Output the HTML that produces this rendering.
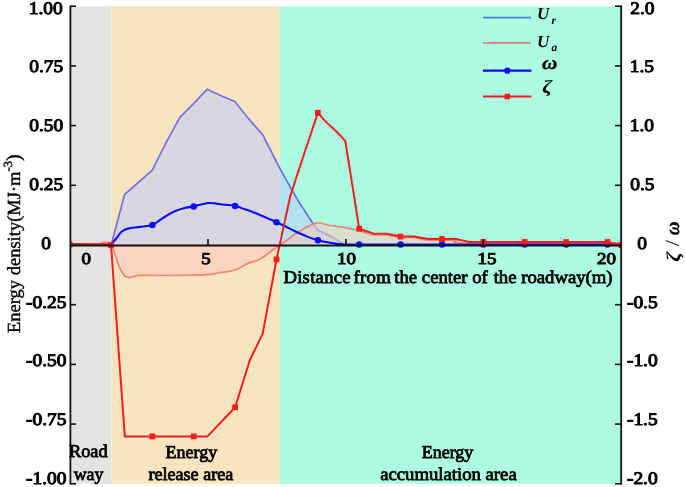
<!DOCTYPE html>
<html><head><meta charset="utf-8"><style>
html,body{margin:0;padding:0;background:#fff;width:685px;height:487px;overflow:hidden}
svg{display:block;text-rendering:geometricPrecision;filter:blur(0.35px)}
</style></head><body>
<svg width="685" height="487" viewBox="0 0 685 487">
<defs><clipPath id="pc"><rect x="70.4" y="5" width="550.8" height="479"/></clipPath></defs>
<rect width="685" height="487" fill="#fff"/>
<rect x="70.4" y="6.2" width="41.1" height="477.6" fill="#e4e4e4"/>
<rect x="111.5" y="6.2" width="168.3" height="477.6" fill="#f8e5bf"/>
<rect x="279.8" y="6.2" width="341" height="477.6" fill="#adfee0"/>
<g clip-path="url(#pc)">
<polygon points="111.2,245.0 124.6,194.5 152.1,170.3 166.2,142.4 179.9,117.4 193.6,103.7 207.3,89.2 221.1,95.7 234.8,101.5 248.5,118.7 262.8,134.8 278.3,165.5 288.5,184.0 297.7,200.0 313.2,224.0 318.0,230.2 330.0,235.9 344.0,244.2" fill="rgb(188,199,255)" fill-opacity="0.5"/>
<polyline points="111.2,245.0 124.6,194.5 152.1,170.3 166.2,142.4 179.9,117.4 193.6,103.7 207.3,89.2 221.1,95.7 234.8,101.5 248.5,118.7 262.8,134.8 278.3,165.5 288.5,184.0 297.7,200.0 313.2,224.0 318.0,230.2 330.0,235.9 344.0,244.2" fill="none" stroke="#7472ef" stroke-width="1.75" stroke-linejoin="round"/>
<path d="M70.40,244.80 C74.67,244.77 90.90,244.87 96.00,244.60 C101.10,244.33 99.50,243.63 101.00,243.20 C102.50,242.77 103.75,242.07 105.00,242.00 C106.25,241.93 107.38,242.25 108.50,242.80 C109.62,243.35 110.70,243.60 111.70,245.30 C112.70,247.00 113.45,249.97 114.50,253.00 C115.55,256.03 116.83,260.42 118.00,263.50 C119.17,266.58 120.33,269.38 121.50,271.50 C122.67,273.62 123.80,275.18 125.00,276.20 C126.20,277.22 127.45,277.50 128.70,277.60 C129.95,277.70 131.18,277.13 132.50,276.80 C133.82,276.47 134.52,275.83 136.60,275.60 C138.68,275.37 139.43,275.42 145.00,275.40 C150.57,275.38 161.67,275.53 170.00,275.50 C178.33,275.47 188.88,275.35 195.00,275.20 C201.12,275.05 203.37,274.87 206.70,274.60 C210.03,274.33 212.08,274.00 215.00,273.60 C217.92,273.20 220.72,272.83 224.20,272.20 C227.68,271.57 232.00,271.23 235.90,269.80 C239.80,268.37 243.95,265.20 247.60,263.60 C251.25,262.00 254.90,261.47 257.80,260.20 C260.70,258.93 262.57,257.67 265.00,256.00 C267.43,254.33 269.95,251.95 272.40,250.20 C274.85,248.45 278.48,246.28 279.70,245.50 Z" fill="rgb(250,198,190)" fill-opacity="0.55"/>
<path d="M279.70,245.50 C281.42,244.22 286.77,240.13 290.00,237.80 C293.23,235.47 296.43,233.22 299.10,231.50 C301.77,229.78 303.65,228.75 306.00,227.50 C308.35,226.25 310.97,224.78 313.20,224.00 C315.43,223.22 316.60,222.55 319.40,222.80 C322.20,223.05 325.73,224.70 330.00,225.50 C334.27,226.30 340.38,226.82 345.00,227.60 C349.62,228.38 353.08,229.03 357.70,230.20 C362.32,231.37 367.98,233.80 372.70,234.60 C377.42,235.40 381.30,234.50 386.00,235.00 C390.70,235.50 396.23,237.17 400.90,237.60 C405.57,238.03 409.45,237.18 414.00,237.60 C418.55,238.02 421.37,239.65 428.20,240.10 C435.03,240.55 448.20,239.82 455.00,240.30 C461.80,240.78 441.33,242.55 469.00,243.00 C496.67,243.45 595.67,243.00 621.00,243.00 L621,245.5 Z" fill="rgb(250,198,190)" fill-opacity="0.55"/>
<path d="M70.40,244.80 C74.67,244.77 90.90,244.87 96.00,244.60 C101.10,244.33 99.50,243.63 101.00,243.20 C102.50,242.77 103.75,242.07 105.00,242.00 C106.25,241.93 107.38,242.25 108.50,242.80 C109.62,243.35 110.70,243.60 111.70,245.30 C112.70,247.00 113.45,249.97 114.50,253.00 C115.55,256.03 116.83,260.42 118.00,263.50 C119.17,266.58 120.33,269.38 121.50,271.50 C122.67,273.62 123.80,275.18 125.00,276.20 C126.20,277.22 127.45,277.50 128.70,277.60 C129.95,277.70 131.18,277.13 132.50,276.80 C133.82,276.47 134.52,275.83 136.60,275.60 C138.68,275.37 139.43,275.42 145.00,275.40 C150.57,275.38 161.67,275.53 170.00,275.50 C178.33,275.47 188.88,275.35 195.00,275.20 C201.12,275.05 203.37,274.87 206.70,274.60 C210.03,274.33 212.08,274.00 215.00,273.60 C217.92,273.20 220.72,272.83 224.20,272.20 C227.68,271.57 232.00,271.23 235.90,269.80 C239.80,268.37 243.95,265.20 247.60,263.60 C251.25,262.00 254.90,261.47 257.80,260.20 C260.70,258.93 262.57,257.67 265.00,256.00 C267.43,254.33 269.95,251.95 272.40,250.20 C274.85,248.45 278.48,246.28 279.70,245.50" fill="none" stroke="#f07468" stroke-width="1.7" stroke-opacity="0.85" stroke-linejoin="round"/>
<path d="M279.70,245.50 C281.42,244.22 286.77,240.13 290.00,237.80 C293.23,235.47 296.43,233.22 299.10,231.50 C301.77,229.78 303.65,228.75 306.00,227.50 C308.35,226.25 310.97,224.78 313.20,224.00 C315.43,223.22 316.60,222.55 319.40,222.80 C322.20,223.05 325.73,224.70 330.00,225.50 C334.27,226.30 340.38,226.82 345.00,227.60 C349.62,228.38 353.08,229.03 357.70,230.20 C362.32,231.37 367.98,233.80 372.70,234.60 C377.42,235.40 381.30,234.50 386.00,235.00 C390.70,235.50 396.23,237.17 400.90,237.60 C405.57,238.03 409.45,237.18 414.00,237.60 C418.55,238.02 421.37,239.65 428.20,240.10 C435.03,240.55 448.20,239.82 455.00,240.30 C461.80,240.78 441.33,242.55 469.00,243.00 C496.67,243.45 595.67,243.00 621.00,243.00" fill="none" stroke="#f07468" stroke-width="1.7" stroke-opacity="0.85" stroke-linejoin="round"/>
<path d="M111.20,243.80 C111.67,243.37 112.95,242.37 114.00,241.20 C115.05,240.03 116.33,238.28 117.50,236.80 C118.67,235.32 119.82,233.47 121.00,232.30 C122.18,231.13 123.10,230.50 124.60,229.80 C126.10,229.10 127.43,228.58 130.00,228.10 C132.57,227.62 136.32,227.40 140.00,226.90 C143.68,226.40 148.77,226.25 152.10,225.10 C155.43,223.95 157.52,221.60 160.00,220.00 C162.48,218.40 164.53,216.95 167.00,215.50 C169.47,214.05 172.02,212.52 174.80,211.30 C177.58,210.08 180.62,209.00 183.70,208.20 C186.78,207.40 190.58,207.07 193.30,206.50 C196.02,205.93 197.55,205.38 200.00,204.80 C202.45,204.22 205.50,203.23 208.00,203.00 C210.50,202.77 212.92,203.18 215.00,203.40 C217.08,203.62 217.22,203.90 220.50,204.30 C223.78,204.70 230.78,205.02 234.70,205.80 C238.62,206.58 240.90,207.92 244.00,209.00 C247.10,210.08 249.67,210.88 253.30,212.30 C256.93,213.72 262.00,215.88 265.80,217.50 C269.60,219.12 272.90,220.53 276.10,222.00 C279.30,223.47 281.85,224.75 285.00,226.30 C288.15,227.85 291.42,229.63 295.00,231.30 C298.58,232.97 302.72,234.80 306.50,236.30 C310.28,237.80 313.78,239.23 317.70,240.30 C321.62,241.37 325.83,242.05 330.00,242.70 C334.17,243.35 337.70,243.88 342.70,244.20 C347.70,244.52 313.62,244.53 360.00,244.60 C406.38,244.67 577.50,244.60 621.00,244.60" fill="none" stroke="#0a0aff" stroke-width="2.1" stroke-linejoin="round"/>
<circle cx="152.4" cy="224.9" r="3.25" fill="#0a0aff"/>
<circle cx="193.8" cy="206.4" r="3.25" fill="#0a0aff"/>
<circle cx="235.1" cy="205.9" r="3.25" fill="#0a0aff"/>
<circle cx="276.5" cy="222.2" r="3.25" fill="#0a0aff"/>
<circle cx="317.9" cy="240.3" r="3.25" fill="#0a0aff"/>
<circle cx="359.2" cy="244.6" r="3.25" fill="#0a0aff"/>
<circle cx="400.6" cy="244.6" r="3.25" fill="#0a0aff"/>
<circle cx="442.0" cy="244.6" r="3.25" fill="#0a0aff"/>
<circle cx="483.4" cy="244.6" r="3.25" fill="#0a0aff"/>
<circle cx="524.7" cy="244.6" r="3.25" fill="#0a0aff"/>
<circle cx="566.1" cy="244.6" r="3.25" fill="#0a0aff"/>
<circle cx="607.5" cy="244.6" r="3.25" fill="#0a0aff"/>
<polyline points="69.0,244.1 108.5,244.2 111.0,244.6 124.8,436.4 152.4,436.4 193.8,436.4 207.5,436.4 235.1,407.3 250.0,359.8 262.7,333.6 276.5,259.5 290.3,196.0 304.1,154.0 317.9,112.7 322.0,117.6 326.8,122.6 331.0,126.6 336.3,131.3 341.0,136.3 345.4,141.4 359.2,228.7 373.0,233.4 386.8,233.8 400.6,236.6 414.4,236.6 428.2,239.1 442.0,239.1 455.8,239.1 469.6,241.9 483.4,242.0 607.5,242.0 621.2,245.0" fill="none" stroke="#fa1c1c" stroke-width="2.0" stroke-linejoin="round"/>
<rect x="66.8" y="241.7" width="5.8" height="5.8" fill="#fa1c1c"/>
<rect x="108.1" y="242.1" width="5.8" height="5.8" fill="#fa1c1c"/>
<rect x="149.5" y="433.5" width="5.8" height="5.8" fill="#fa1c1c"/>
<rect x="190.9" y="433.5" width="5.8" height="5.8" fill="#fa1c1c"/>
<rect x="232.2" y="404.4" width="5.8" height="5.8" fill="#fa1c1c"/>
<rect x="273.6" y="256.6" width="5.8" height="5.8" fill="#fa1c1c"/>
<rect x="315.0" y="109.8" width="5.8" height="5.8" fill="#fa1c1c"/>
<rect x="356.3" y="225.8" width="5.8" height="5.8" fill="#fa1c1c"/>
<rect x="397.7" y="233.7" width="5.8" height="5.8" fill="#fa1c1c"/>
<rect x="439.1" y="236.2" width="5.8" height="5.8" fill="#fa1c1c"/>
<rect x="480.5" y="239.1" width="5.8" height="5.8" fill="#fa1c1c"/>
<rect x="521.8" y="239.1" width="5.8" height="5.8" fill="#fa1c1c"/>
<rect x="563.2" y="239.1" width="5.8" height="5.8" fill="#fa1c1c"/>
<rect x="604.6" y="239.1" width="5.8" height="5.8" fill="#fa1c1c"/>
<rect x="618.3" y="242.1" width="5.8" height="5.8" fill="#fa1c1c"/>
</g>
<line x1="70.4" y1="5.4" x2="70.4" y2="484.4" stroke="#111" stroke-width="1.8"/>
<line x1="621.2" y1="5.4" x2="621.2" y2="484.4" stroke="#111" stroke-width="1.8"/>
<line x1="70.4" y1="245.5" x2="621.2" y2="245.5" stroke="#111" stroke-width="1.9"/>
<line x1="70.4" y1="6.2" x2="76" y2="6.2" stroke="#111" stroke-width="1.6"/>
<line x1="615" y1="6.2" x2="621.2" y2="6.2" stroke="#111" stroke-width="1.6"/>
<line x1="70.4" y1="65.9" x2="76" y2="65.9" stroke="#111" stroke-width="1.6"/>
<line x1="615" y1="65.9" x2="621.2" y2="65.9" stroke="#111" stroke-width="1.6"/>
<line x1="70.4" y1="125.6" x2="76" y2="125.6" stroke="#111" stroke-width="1.6"/>
<line x1="615" y1="125.6" x2="621.2" y2="125.6" stroke="#111" stroke-width="1.6"/>
<line x1="70.4" y1="185.3" x2="76" y2="185.3" stroke="#111" stroke-width="1.6"/>
<line x1="615" y1="185.3" x2="621.2" y2="185.3" stroke="#111" stroke-width="1.6"/>
<line x1="70.4" y1="304.7" x2="76" y2="304.7" stroke="#111" stroke-width="1.6"/>
<line x1="615" y1="304.7" x2="621.2" y2="304.7" stroke="#111" stroke-width="1.6"/>
<line x1="70.4" y1="364.4" x2="76" y2="364.4" stroke="#111" stroke-width="1.6"/>
<line x1="615" y1="364.4" x2="621.2" y2="364.4" stroke="#111" stroke-width="1.6"/>
<line x1="70.4" y1="424.1" x2="76" y2="424.1" stroke="#111" stroke-width="1.6"/>
<line x1="615" y1="424.1" x2="621.2" y2="424.1" stroke="#111" stroke-width="1.6"/>
<line x1="70.4" y1="483.8" x2="76" y2="483.8" stroke="#111" stroke-width="1.6"/>
<line x1="615" y1="483.8" x2="621.2" y2="483.8" stroke="#111" stroke-width="1.6"/>
<line x1="208.0" y1="239" x2="208.0" y2="245.5" stroke="#111" stroke-width="1.6"/>
<line x1="345.9" y1="239" x2="345.9" y2="245.5" stroke="#111" stroke-width="1.6"/>
<line x1="483.3" y1="239" x2="483.3" y2="245.5" stroke="#111" stroke-width="1.6"/>
<text transform="translate(68.90,457.40) scale(1.0184,1)" font-family="Liberation Serif" stroke="#000" stroke-width="0.8" font-size="18">Road</text>
<text transform="translate(73.70,479.80) scale(0.9900,1)" font-family="Liberation Serif" stroke="#000" stroke-width="0.8" font-size="18">way</text>
<text transform="translate(165.60,457.50) scale(0.9981,1)" font-family="Liberation Serif" stroke="#000" stroke-width="0.8" font-size="18">Energy</text>
<text transform="translate(148.40,480.40) scale(1.0059,1)" font-family="Liberation Serif" stroke="#000" stroke-width="0.8" font-size="18">release area</text>
<text transform="translate(421.80,457.70) scale(0.9962,1)" font-family="Liberation Serif" stroke="#000" stroke-width="0.8" font-size="18">Energy</text>
<text transform="translate(380.20,479.90) scale(1.0386,1)" font-family="Liberation Serif" stroke="#000" stroke-width="0.8" font-size="18">accumulation area</text>
<text transform="translate(283.40,282.80) scale(1.0387,1)" font-family="Liberation Serif" stroke="#000" stroke-width="0.8" font-size="18"><tspan letter-spacing="0.25">Distance</tspan><tspan dx="-2.3" letter-spacing="0.3"> from</tspan><tspan dx="-1.4"> the center of</tspan><tspan dx="1.2"> the roadway(m)</tspan></text>
<text transform="translate(28.70,13.50) scale(1.1,1)" font-family="Liberation Serif" stroke="#000" stroke-width="1.0" font-size="17.7">1.00</text>
<text transform="translate(29.25,72.30) scale(1.1,1)" font-family="Liberation Serif" stroke="#000" stroke-width="1.0" font-size="17.7">0.75</text>
<text transform="translate(29.25,131.10) scale(1.1,1)" font-family="Liberation Serif" stroke="#000" stroke-width="1.0" font-size="17.7">0.50</text>
<text transform="translate(29.25,189.90) scale(1.1,1)" font-family="Liberation Serif" stroke="#000" stroke-width="1.0" font-size="17.7">0.25</text>
<text transform="translate(41.35,248.70) scale(1.1,1)" font-family="Liberation Serif" stroke="#000" stroke-width="1.0" font-size="17.7">0</text>
<text transform="translate(25.95,307.50) scale(1.1,1)" font-family="Liberation Serif" stroke="#000" stroke-width="1.0" font-size="17.7">&#8209;0.25</text>
<text transform="translate(25.95,366.30) scale(1.1,1)" font-family="Liberation Serif" stroke="#000" stroke-width="1.0" font-size="17.7">&#8209;0.50</text>
<text transform="translate(25.95,425.10) scale(1.1,1)" font-family="Liberation Serif" stroke="#000" stroke-width="1.0" font-size="17.7">&#8209;0.75</text>
<text transform="translate(25.95,483.90) scale(1.1,1)" font-family="Liberation Serif" stroke="#000" stroke-width="1.0" font-size="17.7">&#8209;1.00</text>
<text transform="translate(630.20,13.50) scale(1.1,1)" font-family="Liberation Serif" stroke="#000" stroke-width="1.0" font-size="17.7">2.0</text>
<text transform="translate(629.65,72.30) scale(1.1,1)" font-family="Liberation Serif" stroke="#000" stroke-width="1.0" font-size="17.7">1.5</text>
<text transform="translate(629.65,131.10) scale(1.1,1)" font-family="Liberation Serif" stroke="#000" stroke-width="1.0" font-size="17.7">1.0</text>
<text transform="translate(630.20,189.90) scale(1.1,1)" font-family="Liberation Serif" stroke="#000" stroke-width="1.0" font-size="17.7">0.5</text>
<text transform="translate(637.35,248.70) scale(1.1,1)" font-family="Liberation Serif" stroke="#000" stroke-width="1.0" font-size="17.7">0</text>
<text transform="translate(626.90,307.50) scale(1.1,1)" font-family="Liberation Serif" stroke="#000" stroke-width="1.0" font-size="17.7">&#8209;0.5</text>
<text transform="translate(626.90,366.30) scale(1.1,1)" font-family="Liberation Serif" stroke="#000" stroke-width="1.0" font-size="17.7">&#8209;1.0</text>
<text transform="translate(626.90,425.10) scale(1.1,1)" font-family="Liberation Serif" stroke="#000" stroke-width="1.0" font-size="17.7">&#8209;1.5</text>
<text transform="translate(626.90,483.90) scale(1.1,1)" font-family="Liberation Serif" stroke="#000" stroke-width="1.0" font-size="17.7">&#8209;2.0</text>
<text transform="translate(81.55,264.30) scale(1.15,1)" font-family="Liberation Serif" stroke="#000" stroke-width="1.0" font-size="16.5">0</text>
<text transform="translate(201.35,264.30) scale(1.15,1)" font-family="Liberation Serif" stroke="#000" stroke-width="1.0" font-size="16.5">5</text>
<text transform="translate(337.08,264.30) scale(1.15,1)" font-family="Liberation Serif" stroke="#000" stroke-width="1.0" font-size="16.5">10</text>
<text transform="translate(477.58,264.30) scale(1.15,1)" font-family="Liberation Serif" stroke="#000" stroke-width="1.0" font-size="16.5">15</text>
<text transform="translate(596.95,264.30) scale(1.15,1)" font-family="Liberation Serif" stroke="#000" stroke-width="1.0" font-size="16.5">20</text>
<text transform="translate(20.2,333) rotate(-90)" font-family="Liberation Serif" font-size="18.5" stroke="#000" stroke-width="0.4">Energy density(MJ·m<tspan dy="-8" font-size="12.5">-3</tspan><tspan dy="8" font-size="20">)</tspan></text>
<text transform="translate(680.0,261.8) rotate(-90) scale(1.15,1)" font-family="Liberation Serif" font-weight="bold" font-style="italic" font-size="19.5">ζ</text>
<text transform="translate(679.2,245.3) rotate(-90) scale(0.75,1)" font-family="Liberation Serif" font-weight="bold" font-style="italic" font-size="20">/</text>
<text transform="translate(678.8,235.3) rotate(-90) scale(1.0,1.05)" font-family="Liberation Serif" font-weight="bold" font-style="italic" font-size="19" stroke="#000" stroke-width="0.3">ω</text>
<line x1="483" y1="17.6" x2="531" y2="17.6" stroke="#4a7ff0" stroke-width="1.6"/>
<line x1="483" y1="42.9" x2="531" y2="42.9" stroke="#d98a7c" stroke-width="1.6"/>
<line x1="483" y1="70.7" x2="531.5" y2="70.7" stroke="#0a0aff" stroke-width="2.2"/>
<circle cx="507.3" cy="70.7" r="3.1" fill="#0a0aff"/>
<line x1="483" y1="96.5" x2="531.5" y2="96.5" stroke="#fa1c1c" stroke-width="2.2"/>
<rect x="504.5" y="93.7" width="5.6" height="5.6" fill="#fa1c1c"/>
<text x="537" y="18.5" font-family="Liberation Serif" font-weight="bold" font-style="italic" font-size="17">U</text><text x="551.5" y="24" font-family="Liberation Serif" font-weight="bold" font-style="italic" font-size="11.5">r</text>
<text x="537" y="46.5" font-family="Liberation Serif" font-weight="bold" font-style="italic" font-size="17">U</text><text x="551.5" y="51" font-family="Liberation Serif" font-weight="bold" font-style="italic" font-size="11.5">a</text>
<text transform="translate(542.0,69.0) scale(1.12,1)" font-family="Liberation Serif" font-weight="bold" font-style="italic" font-size="19" stroke="#000" stroke-width="0.3">ω</text>
<text transform="translate(542.2,93.2) scale(1.2,1)" font-family="Liberation Serif" font-weight="bold" font-style="italic" font-size="18.5">ζ</text>
</svg>
</body></html>
